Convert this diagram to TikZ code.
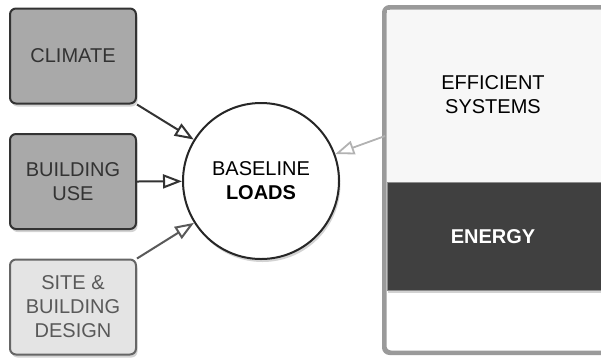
\documentclass[tikz,border=0pt]{standalone}
\usepackage{fontspec}
\setmainfont{Liberation Sans}
\usetikzlibrary{arrows.meta,shadows}
\definecolor{factorfill}{HTML}{A9A9A9}
\definecolor{sitefill}{HTML}{E4E4E4}
\definecolor{bandfill}{HTML}{404040}
\definecolor{panelline}{HTML}{9A9A9A}
\tikzset{
  softshadow/.style={drop shadow={opacity=0.35,shadow xshift=1.5pt,shadow yshift=-3pt}},
  factor/.style={draw=black!80,line width=2pt,rounded corners=6pt,fill=factorfill,
    minimum width=126pt,minimum height=95pt,inner sep=0pt,text=black!80,softshadow},
  feed/.style={-{Triangle[open,length=19pt,width=14pt]},line width=2pt,draw=black!80}
}
\begin{document}
\begin{tikzpicture}[x=1pt,y=-1pt,
    every node/.style={font=\fontsize{20}{24}\selectfont,align=center}]
  \clip (0,0) rectangle (601,357);
  % inputs
  \node[factor] (climate) at (73,56) {CLIMATE};
  \node[factor] (use) at (73,181.5) {BUILDING\\USE};
  \node[factor,fill=sitefill,draw=black!60,text=black!65] (site) at (73,307) {SITE \&\\BUILDING\\DESIGN};
  % loads
  \node[circle,draw=black!85,line width=2pt,fill=white,minimum size=156pt,
    inner sep=0pt,softshadow] (base) at (261,181) {BASELINE\\\textbf{LOADS}};
  % panel on the right
  \node[draw=panelline,line width=3pt,rounded corners=6pt,fill=white,
    minimum width=270pt,minimum height=344pt] (panel) at (520,180) {};
  \node[fill=black!3,minimum width=250pt,minimum height=173pt,inner sep=0pt,
    anchor=north west] (eff) at (386.5,9.5) {};
  \node at (493,95) (effsys) {EFFICIENT\\SYSTEMS};
  \node[fill=bandfill,draw=black!45,line width=0.8pt,
    minimum width=250pt,minimum height=108pt,inner sep=0pt,anchor=north west,
    softshadow] (energy) at (386.5,182) {};
  \node[text=white,font=\fontsize{20}{24}\selectfont\bfseries] (energytext) at (493,237) {ENERGY};
  \draw[panelline,line width=3pt,rounded corners=6pt] (panel.north west) rectangle (panel.south east);
  % arrows
  \coordinate (gap) at (385,136);
  \draw[feed] (climate.south east) -- (base);
  \draw[feed] (use.east) -- (base);
  \draw[feed,draw=black!65] (site.north east) -- (base);
  \draw[feed,draw=black!30,line width=1.8pt] (gap) -- (base);
\end{tikzpicture}
\end{document}
